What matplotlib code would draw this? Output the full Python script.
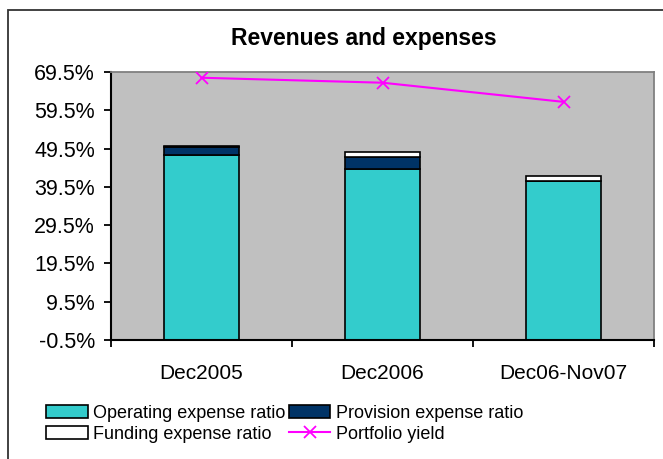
import matplotlib
matplotlib.use("Agg")
import matplotlib.pyplot as plt
from matplotlib.patches import Rectangle
from matplotlib.ticker import FixedLocator, FuncFormatter
import numpy as np

categories = ["Dec2005", "Dec2006", "Dec06-Nov07"]
operating_expense = [47.8, 44.2, 41.0]
provision_expense = [2.0, 3.2, 0.0]
funding_expense = [0.4, 1.3, 1.4]
portfolio_yield = [68.0, 66.7, 61.7]
y_ticks = [-0.5, 9.5, 19.5, 29.5, 39.5, 49.5, 59.5, 69.5]

plt.rcParams["font.family"] = ["Liberation Sans", "DejaVu Sans"]

fig = plt.figure(figsize=(6.63, 4.59), dpi=100)
fig.patch.set_facecolor("white")

# chart frame
fig.patches.append(Rectangle((8 / 663, -0.1), 1.2, 1 - 10 / 459 + 0.1,
                             transform=fig.transFigure, fill=False,
                             edgecolor="#333333", linewidth=1.3))

ax = fig.add_axes([111 / 663, 119 / 459, 543 / 663, 268 / 459])
ax.set_facecolor("#C0C0C0")

y_min = y_ticks[0]
x = np.arange(len(categories))
w = 0.41
op = np.array(operating_expense)
pr = np.array(provision_expense)
fu = np.array(funding_expense)

# columns rise from the category axis, which crosses at the axis minimum
b1 = ax.bar(x, op - y_min, w, bottom=y_min, color="#33CCCC",
            edgecolor="black", linewidth=1.2,
            label="Operating expense ratio", zorder=2)
b2 = ax.bar(x, pr, w, bottom=op, color="#003366", edgecolor="black",
            linewidth=1.2, label="Provision expense ratio", zorder=2)
b3 = ax.bar(x, fu, w, bottom=op + pr, color="white", edgecolor="black",
            linewidth=1.2, label="Funding expense ratio", zorder=2)
ln, = ax.plot(x, portfolio_yield, color="#FF00FF", linewidth=1.5,
              marker="x", markersize=8, markeredgewidth=1.3,
              label="Portfolio yield", zorder=3)

ax.set_xlim(-0.5, 2.5)
ax.set_ylim(-0.5, 69.5)
ax.yaxis.set_major_locator(FixedLocator(y_ticks))
ax.yaxis.set_major_formatter(FuncFormatter(lambda v, p: f"{v:.1f}%"))
ax.set_xticks(x)
ax.set_xticklabels(categories)
ax.set_xticks([-0.5, 0.5, 1.5, 2.5], minor=True)
ax.tick_params(axis="x", which="major", length=0, pad=17, labelsize=15)
ax.tick_params(axis="x", which="minor", length=5, width=1.3, direction="out")
ax.tick_params(axis="y", length=5, width=1.3, direction="out", pad=6.5,
               labelsize=15.5)

for s in ["left", "bottom"]:
    ax.spines[s].set_color("black")
    ax.spines[s].set_linewidth(1.5)
for s in ["top", "right"]:
    ax.spines[s].set_color("#808080")
    ax.spines[s].set_linewidth(1.3)

fig.text(364 / 663, 1 - 39 / 459, "Revenues and expenses", ha="center",
         va="center", fontsize=16.5, fontweight="bold")

handles = [b1, b3, b2, ln]
labels = ["Operating expense ratio", "Funding expense ratio",
          "Provision expense ratio", "Portfolio yield"]
fig.legend(handles, labels, ncol=2, loc="upper left",
           bbox_to_anchor=(46 / 663, 1 - 405 / 459), frameon=False,
           fontsize=13, handlelength=2.3, handleheight=0.75,
           handletextpad=0.3, columnspacing=0.2, labelspacing=0.2,
           borderpad=0, borderaxespad=0)

fig.savefig("out.png", dpi=100)
